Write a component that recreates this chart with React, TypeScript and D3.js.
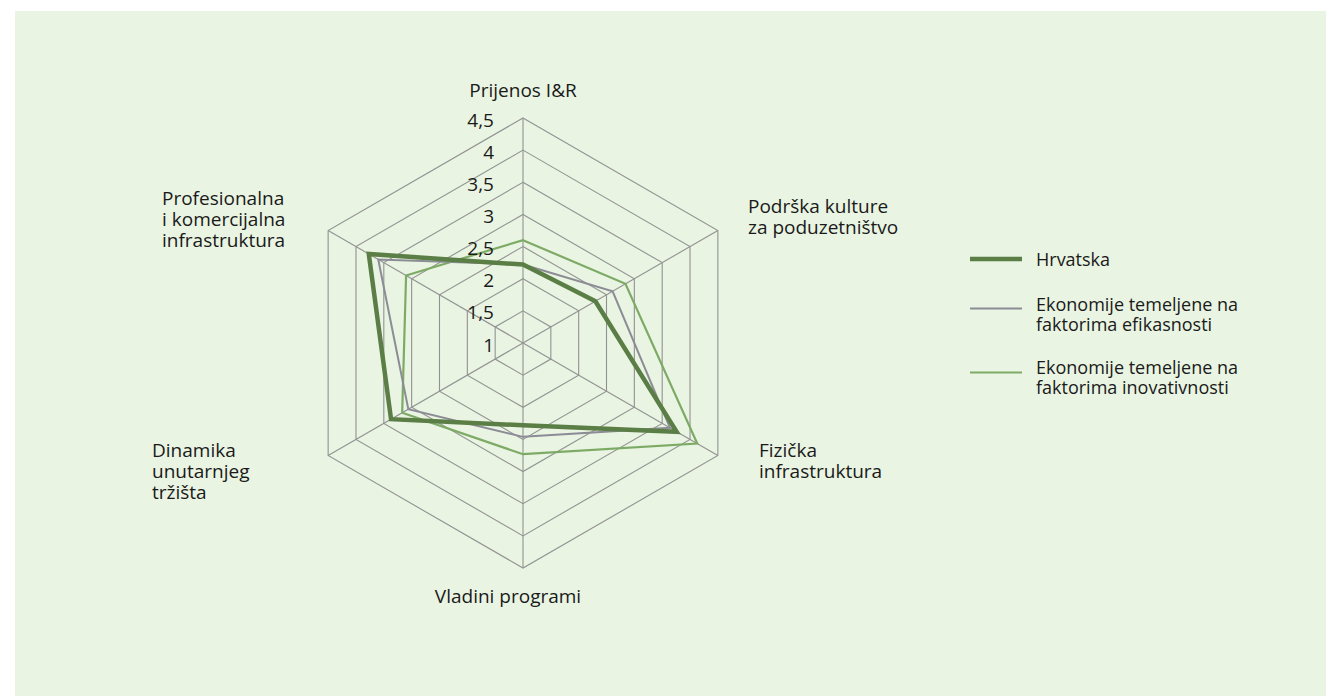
import React from "react";
import * as d3 from "d3";

const categories = [
  ["Prijenos I&R"],
  ["Podrška kulture", "za poduzetništvo"],
  ["Fizička", "infrastruktura"],
  ["Vladini programi"],
  ["Dinamika", "unutarnjeg", "tržišta"],
  ["Profesionalna", "i komercijalna", "infrastruktura"],
];
const hrvatska = [2.22, 2.3, 3.76, 2.28, 3.37, 3.77];
const efikasnost = [2.22, 2.61, 3.64, 2.46, 3.06, 3.6];
const inovativnost = [2.6, 2.84, 4.13, 2.73, 3.17, 3.1];
const ticks = [1, 1.5, 2, 2.5, 3, 3.5, 4, 4.5];
const tickLabels = ["1", "1,5", "2", "2,5", "3", "3,5", "4", "4,5"];
const seriesNames = [
  ["Hrvatska"],
  ["Ekonomije temeljene na", "faktorima efikasnosti"],
  ["Ekonomije temeljene na", "faktorima inovativnosti"],
];

const W = 1326;
const H = 696;
const cx = 523;
const cy = 343;
const R = 225;
const FONT = "'Open Sans', 'Noto Sans', sans-serif";
const colors = ["#5a7e45", "#8c8c96", "#7dab66"];
const widths = [4.5, 2, 2.2];

const labelPos: { anchor: "start" | "middle" | "end"; x: number; y: number }[] = [
  { anchor: "middle", x: 523, y: 97 },
  { anchor: "start", x: 748, y: 213 },
  { anchor: "start", x: 759, y: 457 },
  { anchor: "middle", x: 508, y: 603 },
  { anchor: "start", x: 152, y: 457 },
  { anchor: "start", x: 162, y: 205 },
];

export default function App() {
  const r = d3.scaleLinear().domain([1, 4.5]).range([0, R]);
  const n = categories.length;
  const angle = d3.scaleLinear().domain([0, n]).range([0, 2 * Math.PI]);
  const pt = (i: number, v: number): [number, number] => {
    const a = angle(i);
    return [cx + r(v) * Math.sin(a), cy - r(v) * Math.cos(a)];
  };
  const radial = d3
    .lineRadial<number>()
    .angle((_, i) => angle(i))
    .radius((d) => r(d))
    .curve(d3.curveLinearClosed);

  const rings = ticks.slice(1);
  const allSeries = [hrvatska, efikasnost, inovativnost];
  const lineH = 21;

  return (
    <svg width={W} height={H} style={{ position: "absolute", left: 0, top: 0 }}>
      <rect x={15} y={11} width={W - 15} height={H - 11} fill="#e9f4e2" />
      <g>
        {rings.map((t) => (
          <path
            key={t}
            d={"M" + d3.range(n).map((i) => pt(i, t).join(",")).join("L") + "Z"}
            fill="none"
            stroke="#929292"
            strokeWidth={1.1}
          />
        ))}
        {d3.range(n).map((i) => {
          const [x, y] = pt(i, 4.5);
          return <line key={i} x1={cx} y1={cy} x2={x} y2={y} stroke="#929292" strokeWidth={1.1} />;
        })}
      </g>
      <g transform={`translate(${cx},${cy})`}>
        {[2, 1, 0].map((s) => (
          <path
            key={s}
            d={radial(allSeries[s]) || ""}
            fill="none"
            stroke={colors[s]}
            strokeWidth={widths[s]}
            strokeLinejoin="miter"
          />
        ))}
      </g>
      <g fontFamily={FONT} fontSize={19} fill="#1a1a1a">
        {ticks.map((t, i) => (
          <text key={t} x={cx - 29} y={cy - r(t) + 8.5} textAnchor="end">
            {tickLabels[i]}
          </text>
        ))}
        {categories.map((lines, i) => (
          <text key={i} textAnchor={labelPos[i].anchor}>
            {lines.map((l, j) => (
              <tspan key={j} x={labelPos[i].x} y={labelPos[i].y + j * lineH}>
                {l}
              </tspan>
            ))}
          </text>
        ))}
      </g>
      <g fontFamily={FONT} fontSize={18} fill="#1a1a1a">
        {seriesNames.map((lines, s) => {
          const ly = [259, 308.5, 372.5][s];
          const ty = [266, 311, 374][s];
          return (
            <g key={s}>
              <line x1={970} x2={1022} y1={ly} y2={ly} stroke={colors[s]} strokeWidth={widths[s]} />
              {lines.map((l, j) => (
                <text key={j} x={1036} y={ty + j * 20}>
                  {l}
                </text>
              ))}
            </g>
          );
        })}
      </g>
    </svg>
  );
}
